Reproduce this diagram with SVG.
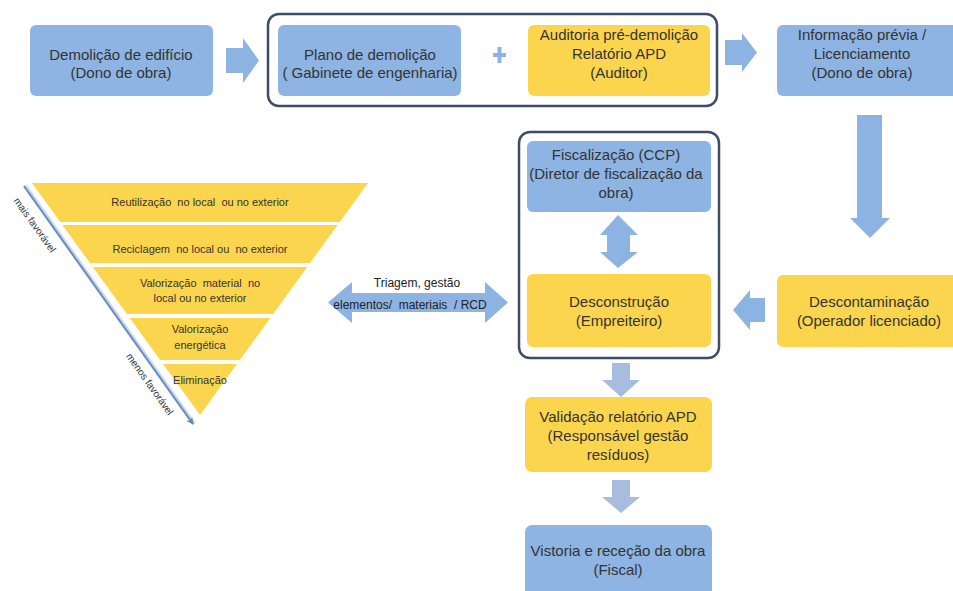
<svg xmlns="http://www.w3.org/2000/svg" width="953" height="591" viewBox="0 0 953 591">
<style>
  .blue { fill: #8DB4E2; }
  .yellow { fill: #FCD54E; }
  .arrow { fill: #8DB3E2; }
  .arrowL { fill: #A7BCDF; }
  .frame { fill: none; stroke: #3E4D66; stroke-width: 2.5; }
  .t { font-family: "Liberation Sans", Arial, sans-serif; font-size: 15px; fill: #333333; text-anchor: middle; }
  .s { font-family: "Liberation Sans", Arial, sans-serif; font-size: 11px; fill: #333333; text-anchor: middle; }
  .m { font-family: "Liberation Sans", Arial, sans-serif; font-size: 12px; fill: #222222; text-anchor: middle; }
  .r { font-family: "Liberation Sans", Arial, sans-serif; font-size: 10px; fill: #333333; text-anchor: middle; }
</style>
<defs>
  <clipPath id="tri"><polygon points="32,183 368,183 200,415"/></clipPath>
  <marker id="ah" viewBox="0 0 10 10" refX="9" refY="5" markerWidth="7" markerHeight="7" orient="auto" markerUnits="userSpaceOnUse">
    <path d="M0,0 L10,5 L0,10 L3,5 Z" fill="#5F84BA"/>
  </marker>
</defs>
<rect width="953" height="591" fill="#ffffff"/>

<!-- frames -->
<rect class="frame" x="268" y="14" width="449" height="92" rx="11"/>
<rect class="frame" x="519" y="132" width="200" height="226" rx="11"/>

<g id="n-demolicao">
  <rect class="blue" x="30" y="25" width="183" height="71" rx="6"/>
  <text class="t" x="121" y="60">Demolição de edifício</text>
  <text class="t" x="121" y="78">(Dono de obra)</text>
</g>
<g id="n-plano">
  <rect class="blue" x="278" y="25" width="183" height="71" rx="6"/>
  <text class="t" x="370" y="60">Plano de demolição</text>
  <text class="t" x="370" y="78">( Gabinete de engenharia)</text>
</g>
<g id="n-plus">
  <rect class="arrow" x="493" y="53" width="13" height="4"/>
  <rect class="arrow" x="497.5" y="47" width="4" height="16"/>
</g>
<g id="n-auditoria">
  <rect class="yellow" x="528" y="25" width="182" height="71" rx="6"/>
  <text class="t" x="619" y="40">Auditoria pré-demolição</text>
  <text class="t" x="619" y="59">Relatório APD</text>
  <text class="t" x="619" y="78">(Auditor)</text>
</g>
<g id="n-informacao">
  <rect class="blue" x="777" y="25" width="186" height="71" rx="6"/>
  <text class="t" x="862" y="40">Informação prévia /</text>
  <text class="t" x="862" y="59">Licenciamento</text>
  <text class="t" x="862" y="78">(Dono de obra)</text>
</g>
<g id="n-fiscalizacao">
  <rect class="blue" x="527" y="141" width="184" height="71" rx="6"/>
  <text class="t" x="616" y="160">Fiscalização (CCP)</text>
  <text class="t" x="616" y="179">(Diretor de fiscalização da</text>
  <text class="t" x="616" y="198">obra)</text>
</g>
<g id="n-desconstrucao">
  <rect class="yellow" x="527" y="274" width="184" height="73" rx="6"/>
  <text class="t" x="619" y="307">Desconstrução</text>
  <text class="t" x="619" y="326">(Empreiteiro)</text>
</g>
<g id="n-descontaminacao">
  <rect class="yellow" x="777" y="275" width="186" height="72" rx="6"/>
  <text class="t" x="869" y="307">Descontaminação</text>
  <text class="t" x="869" y="326">(Operador licenciado)</text>
</g>
<g id="n-validacao">
  <rect class="yellow" x="525" y="397" width="187" height="75" rx="7"/>
  <text class="t" x="618" y="422">Validação relatório APD</text>
  <text class="t" x="618" y="441">(Responsável gestão</text>
  <text class="t" x="618" y="460">resíduos)</text>
</g>
<g id="n-vistoria">
  <rect class="blue" x="525" y="525" width="187" height="75" rx="7"/>
  <text class="t" x="618" y="556">Vistoria e receção da obra</text>
  <text class="t" x="618" y="575">(Fiscal)</text>
</g>

<g id="n-piramide">
  <g clip-path="url(#tri)" fill="#FCD54E">
    <rect x="0" y="183" width="400" height="39"/>
    <rect x="0" y="225" width="400" height="38"/>
    <rect x="0" y="267" width="400" height="47"/>
    <rect x="0" y="318" width="400" height="42"/>
    <rect x="0" y="364" width="400" height="52"/>
  </g>
  <text class="s" x="200" y="206" xml:space="preserve">Reutilização  no local  ou no exterior</text>
  <text class="s" x="200" y="253" xml:space="preserve">Reciclagem  no local ou  no exterior</text>
  <text class="s" x="200" y="287" xml:space="preserve">Valorização  material  no</text>
  <text class="s" x="200" y="302">local ou no exterior</text>
  <text class="s" x="200" y="333">Valorização</text>
  <text class="s" x="200" y="349">energética</text>
  <text class="s" x="200" y="384">Eliminação</text>
  <line x1="25" y1="186" x2="194" y2="424" stroke="#C9D8EE" stroke-width="4"/>
  <line x1="24" y1="186" x2="193" y2="424" stroke="#6A8DC0" stroke-width="2" marker-end="url(#ah)"/>
  <text class="r" transform="translate(32,227) rotate(54.5)">mais favorável</text>
  <text class="r" transform="translate(147,386) rotate(54.5)">menos favorável</text>
</g>

<g id="connectors">
  <path class="arrow" d="M226,48 H243 V38 L259,60.5 L243,83 V73 H226 Z"/>
  <path class="arrow" d="M725,40 H742 V33 L757,52.5 L742,72 V65 H725 Z"/>
  <path class="arrow" d="M857,115 H882 V218 H890 L870,238 L850,218 H857 Z"/>
  <path class="arrow" d="M765,298 V322 H750 V330 L733,310 L750,290 V298 Z"/>
  <path class="arrow" d="M618,215 L638,235 H630 V252 H638 L618,268 L600,252 H607 V235 H600 Z"/>
  <path class="arrow" d="M328,302.5 L352,282 V293 H485 V282 L508,302.5 L485,323 V312 H352 V323 Z"/>
  <path class="arrowL" d="M612,363 H630 V380 H640 L621,397 L602,380 H612 Z"/>
  <path class="arrowL" d="M612,480 H630 V497 H640 L621,513 L602,497 H612 Z"/>
  <text class="m" x="417" y="287">Triagem, gestão</text>
  <text class="m" x="410" y="309" xml:space="preserve">elementos/  materiais  / RCD</text>
</g>
</svg>
